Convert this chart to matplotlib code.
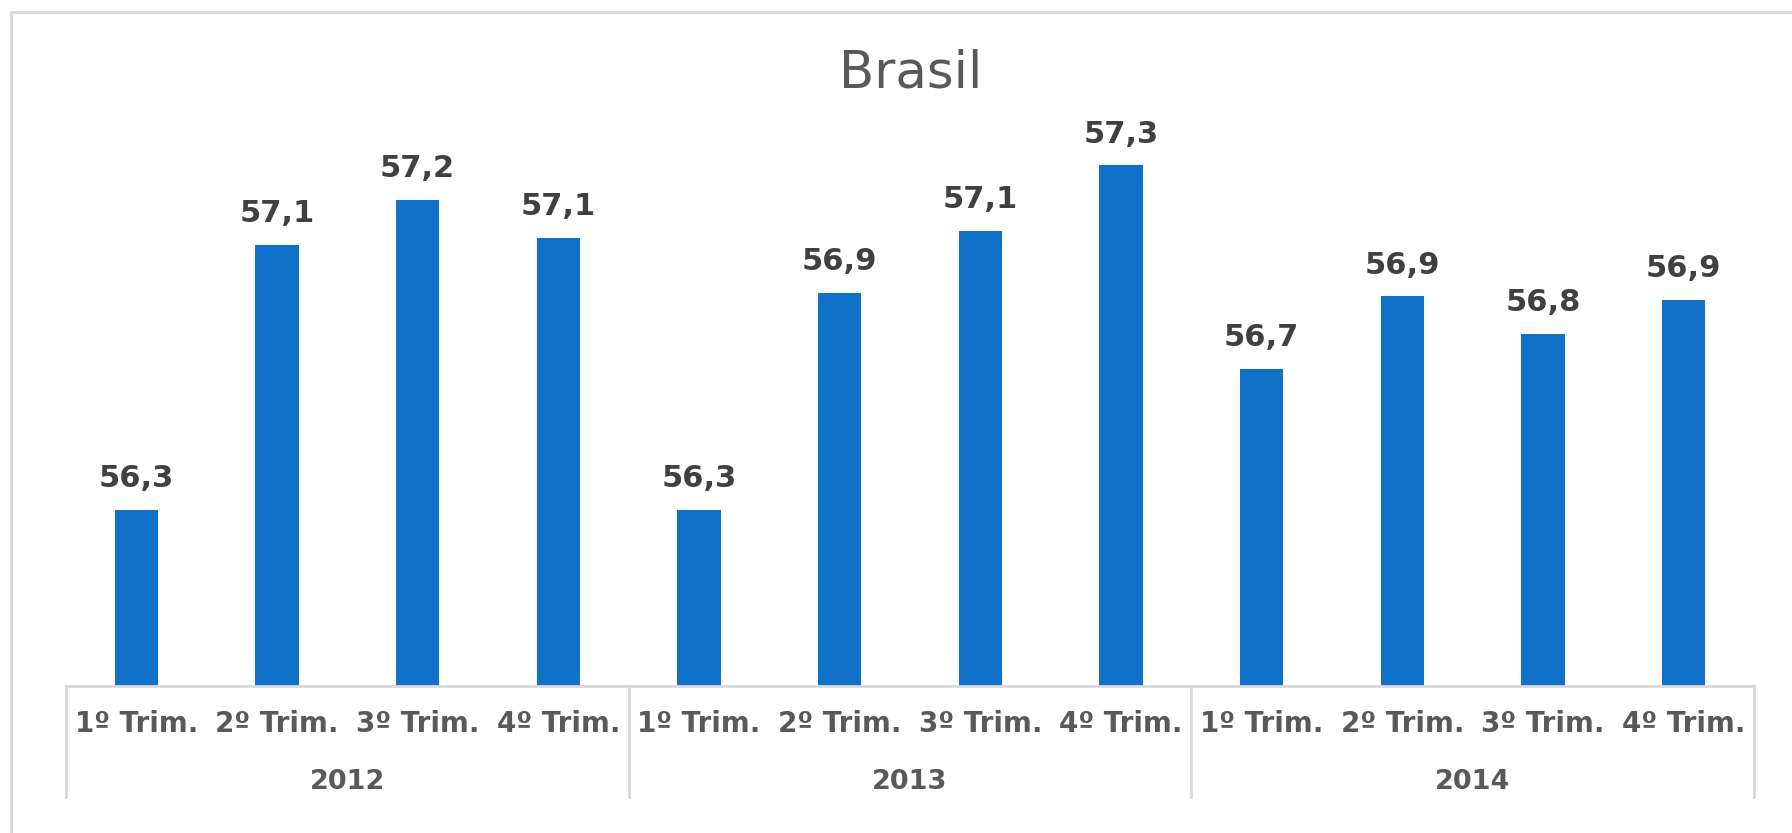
import matplotlib
matplotlib.use("Agg")
import matplotlib.pyplot as plt
from matplotlib.patches import Rectangle

# dados
anos = ['2012', '2013', '2014']
trimestres = ['1º Trim.', '2º Trim.', '3º Trim.', '4º Trim.']
valores = [56.31, 57.08, 57.21, 57.10,
           56.31, 56.94, 57.12, 57.31,
           56.72, 56.93, 56.82, 56.92]

plt.rcParams['font.family'] = ['DejaVu Sans']

W, H = 1792, 833
fig = plt.figure(figsize=(W / 100, H / 100), dpi=100)

# moldura cinza (cortada à direita e embaixo, como no original)
fig.patches.append(Rectangle((11 / W, -0.1), 1.2, 1 - 12 / H + 0.1,
                             transform=fig.transFigure, fill=False,
                             edgecolor='#D9D9D9', linewidth=2.2))

ax = fig.add_axes([66 / W, (H - 686) / H, 1688 / W, 586 / H])

x = list(range(len(valores)))
ax.bar(x, valores, width=0.31, color='#1170C8', bottom=0)
ax.set_ylim(55.8, 57.5)
ax.set_xlim(-0.5, len(valores) - 0.5)

for xi, v in zip(x, valores):
    ax.annotate(f'{v:.1f}'.replace('.', ','), (xi, v), xytext=(0, 16.5),
                textcoords='offset points', ha='center', va='baseline',
                fontsize=22, fontweight='bold', color='#404040')

for s in ['top', 'right', 'left']:
    ax.spines[s].set_visible(False)
ax.spines['bottom'].set_color('#D9D9D9')
ax.spines['bottom'].set_linewidth(2)
ax.set_yticks([])
ax.set_xticks([])

tr = ax.get_xaxis_transform()
y_sep = -(797 - 686) / 586
for k in range(len(anos) + 1):
    xs = k * 4 - 0.5
    ax.plot([xs, xs], [0, y_sep], transform=tr, color='#D9D9D9', lw=2, clip_on=False)

for i, xi in enumerate(x):
    ax.text(xi, -(732 - 686) / 586, trimestres[i % 4], transform=tr, ha='center', va='baseline',
            fontsize=20, fontweight='bold', color='#595959')
for k, ano in enumerate(anos):
    ax.text(k * 4 + 1.5, -(789 - 686) / 586, ano, transform=tr, ha='center', va='baseline',
            fontsize=19.5, fontweight='bold', color='#595959')

fig.text(911 / W, 1 - 87 / H, 'Brasil', ha='center', va='baseline', fontsize=37, color='#595959')

fig.savefig('out.png', dpi=100)
